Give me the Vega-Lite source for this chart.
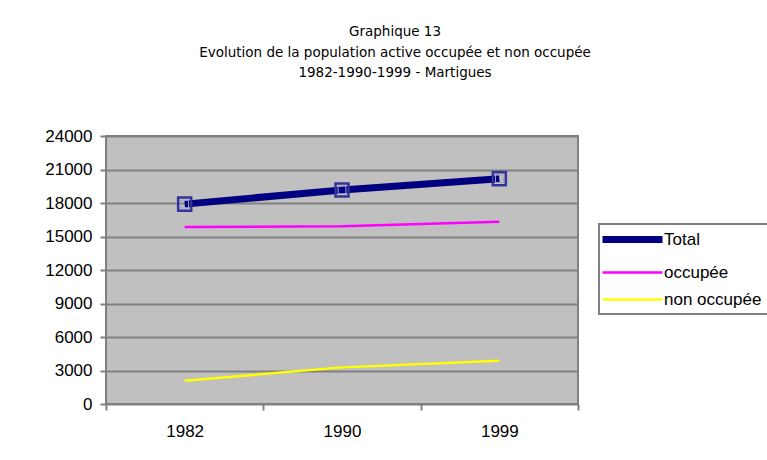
{
  "$schema": "https://vega.github.io/schema/vega-lite/v6.json",
  "autosize": {"type": "none"},
  "padding": {"left": 106, "top": 136, "right": 189, "bottom": 56},
  "width": 472,
  "height": 268,
  "background": "#ffffff",
  "title": {
    "text": "Graphique 13",
    "subtitle": ["Evolution de la population active occupée et non occupée", "1982-1990-1999 - Martigues"],
    "anchor": "middle",
    "frame": "group",
    "dx": 53,
    "offset": 48,
    "font": "DejaVu Sans",
    "fontSize": 13.5,
    "fontWeight": "normal",
    "color": "#000000",
    "subtitleFont": "DejaVu Sans",
    "subtitleFontSize": 13.5,
    "subtitleColor": "#000000",
    "subtitleLineHeight": 20,
    "subtitlePadding": 7
  },
  "config": {
    "view": {"fill": "#c0c0c0", "stroke": "#808080", "strokeWidth": 2}
  },
  "data": {
    "values": [
      {"annee": "1982", "serie": "Total", "valeur": 17900},
      {"annee": "1990", "serie": "Total", "valeur": 19170},
      {"annee": "1999", "serie": "Total", "valeur": 20180},
      {"annee": "1982", "serie": "occupée", "valeur": 15850},
      {"annee": "1990", "serie": "occupée", "valeur": 15910},
      {"annee": "1999", "serie": "occupée", "valeur": 16320},
      {"annee": "1982", "serie": "non occupée", "valeur": 2080},
      {"annee": "1990", "serie": "non occupée", "valeur": 3280},
      {"annee": "1999", "serie": "non occupée", "valeur": 3880}
    ]
  },
  "encoding": {
    "x": {
      "field": "annee",
      "type": "ordinal",
      "bandPosition": 0.5,
      "scale": {"type": "band", "paddingInner": 0, "paddingOuter": 0},
      "axis": {
        "title": null,
        "labelAngle": 0,
        "tickBand": "extent",
        "grid": false,
        "domain": false,
        "tickColor": "#808080",
        "tickWidth": 2,
        "tickSize": 6,
        "labelPadding": 13,
        "labelFont": "Liberation Sans",
        "labelFontSize": 17,
        "labelColor": "#000000"
      }
    },
    "y": {
      "field": "valeur",
      "type": "quantitative",
      "scale": {"domain": [0, 24000], "nice": false},
      "axis": {
        "title": null,
        "values": [0, 3000, 6000, 9000, 12000, 15000, 18000, 21000, 24000],
        "format": "d",
        "grid": true,
        "gridColor": "#808080",
        "gridWidth": 2,
        "gridOpacity": 1,
        "domain": false,
        "tickColor": "#808080",
        "tickWidth": 2,
        "tickSize": 6,
        "labelPadding": 8,
        "labelFont": "Liberation Sans",
        "labelFontSize": 17,
        "labelColor": "#000000"
      }
    }
  },
  "layer": [
    {
      "mark": {"type": "line"},
      "encoding": {
        "color": {
          "field": "serie",
          "type": "nominal",
          "sort": ["Total", "occupée", "non occupée"],
          "scale": {"domain": ["Total", "occupée", "non occupée"], "range": ["#000080", "#ff00ff", "#ffff00"]},
          "legend": {
            "orient": "none",
            "legendX": 493,
            "legendY": 88,
            "title": null,
            "symbolType": "M-2,0H8",
            "symbolSize": 144,
            "labelOffset": 40,
            "labelFont": "Liberation Sans",
            "labelFontSize": 17,
            "labelColor": "#000000",
            "labelLimit": 300,
            "rowPadding": 9,
            "padding": 6,
            "strokeColor": "#808080",
            "fillColor": "#ffffff",
            "encode": {
              "legend": {
                "update": {"strokeWidth": {"value": 2}}
              }
            }
          }
        },
        "strokeWidth": {
          "field": "serie",
          "type": "nominal",
          "scale": {"type": "ordinal", "domain": ["Total", "occupée", "non occupée"], "range": [7, 2.5, 2.5]},
          "legend": null
        }
      }
    },
    {
      "transform": [{"filter": "datum.serie === 'Total'"}],
      "mark": {"type": "point", "shape": "square", "filled": false, "size": 170, "stroke": "#333399", "strokeWidth": 2.5, "opacity": 1}
    },
    {
      "transform": [{"filter": "datum.serie === 'Total'"}],
      "mark": {"type": "point", "shape": "square", "filled": false, "size": 60, "stroke": "#a0a0d0", "strokeWidth": 1, "opacity": 1}
    }
  ]
}
